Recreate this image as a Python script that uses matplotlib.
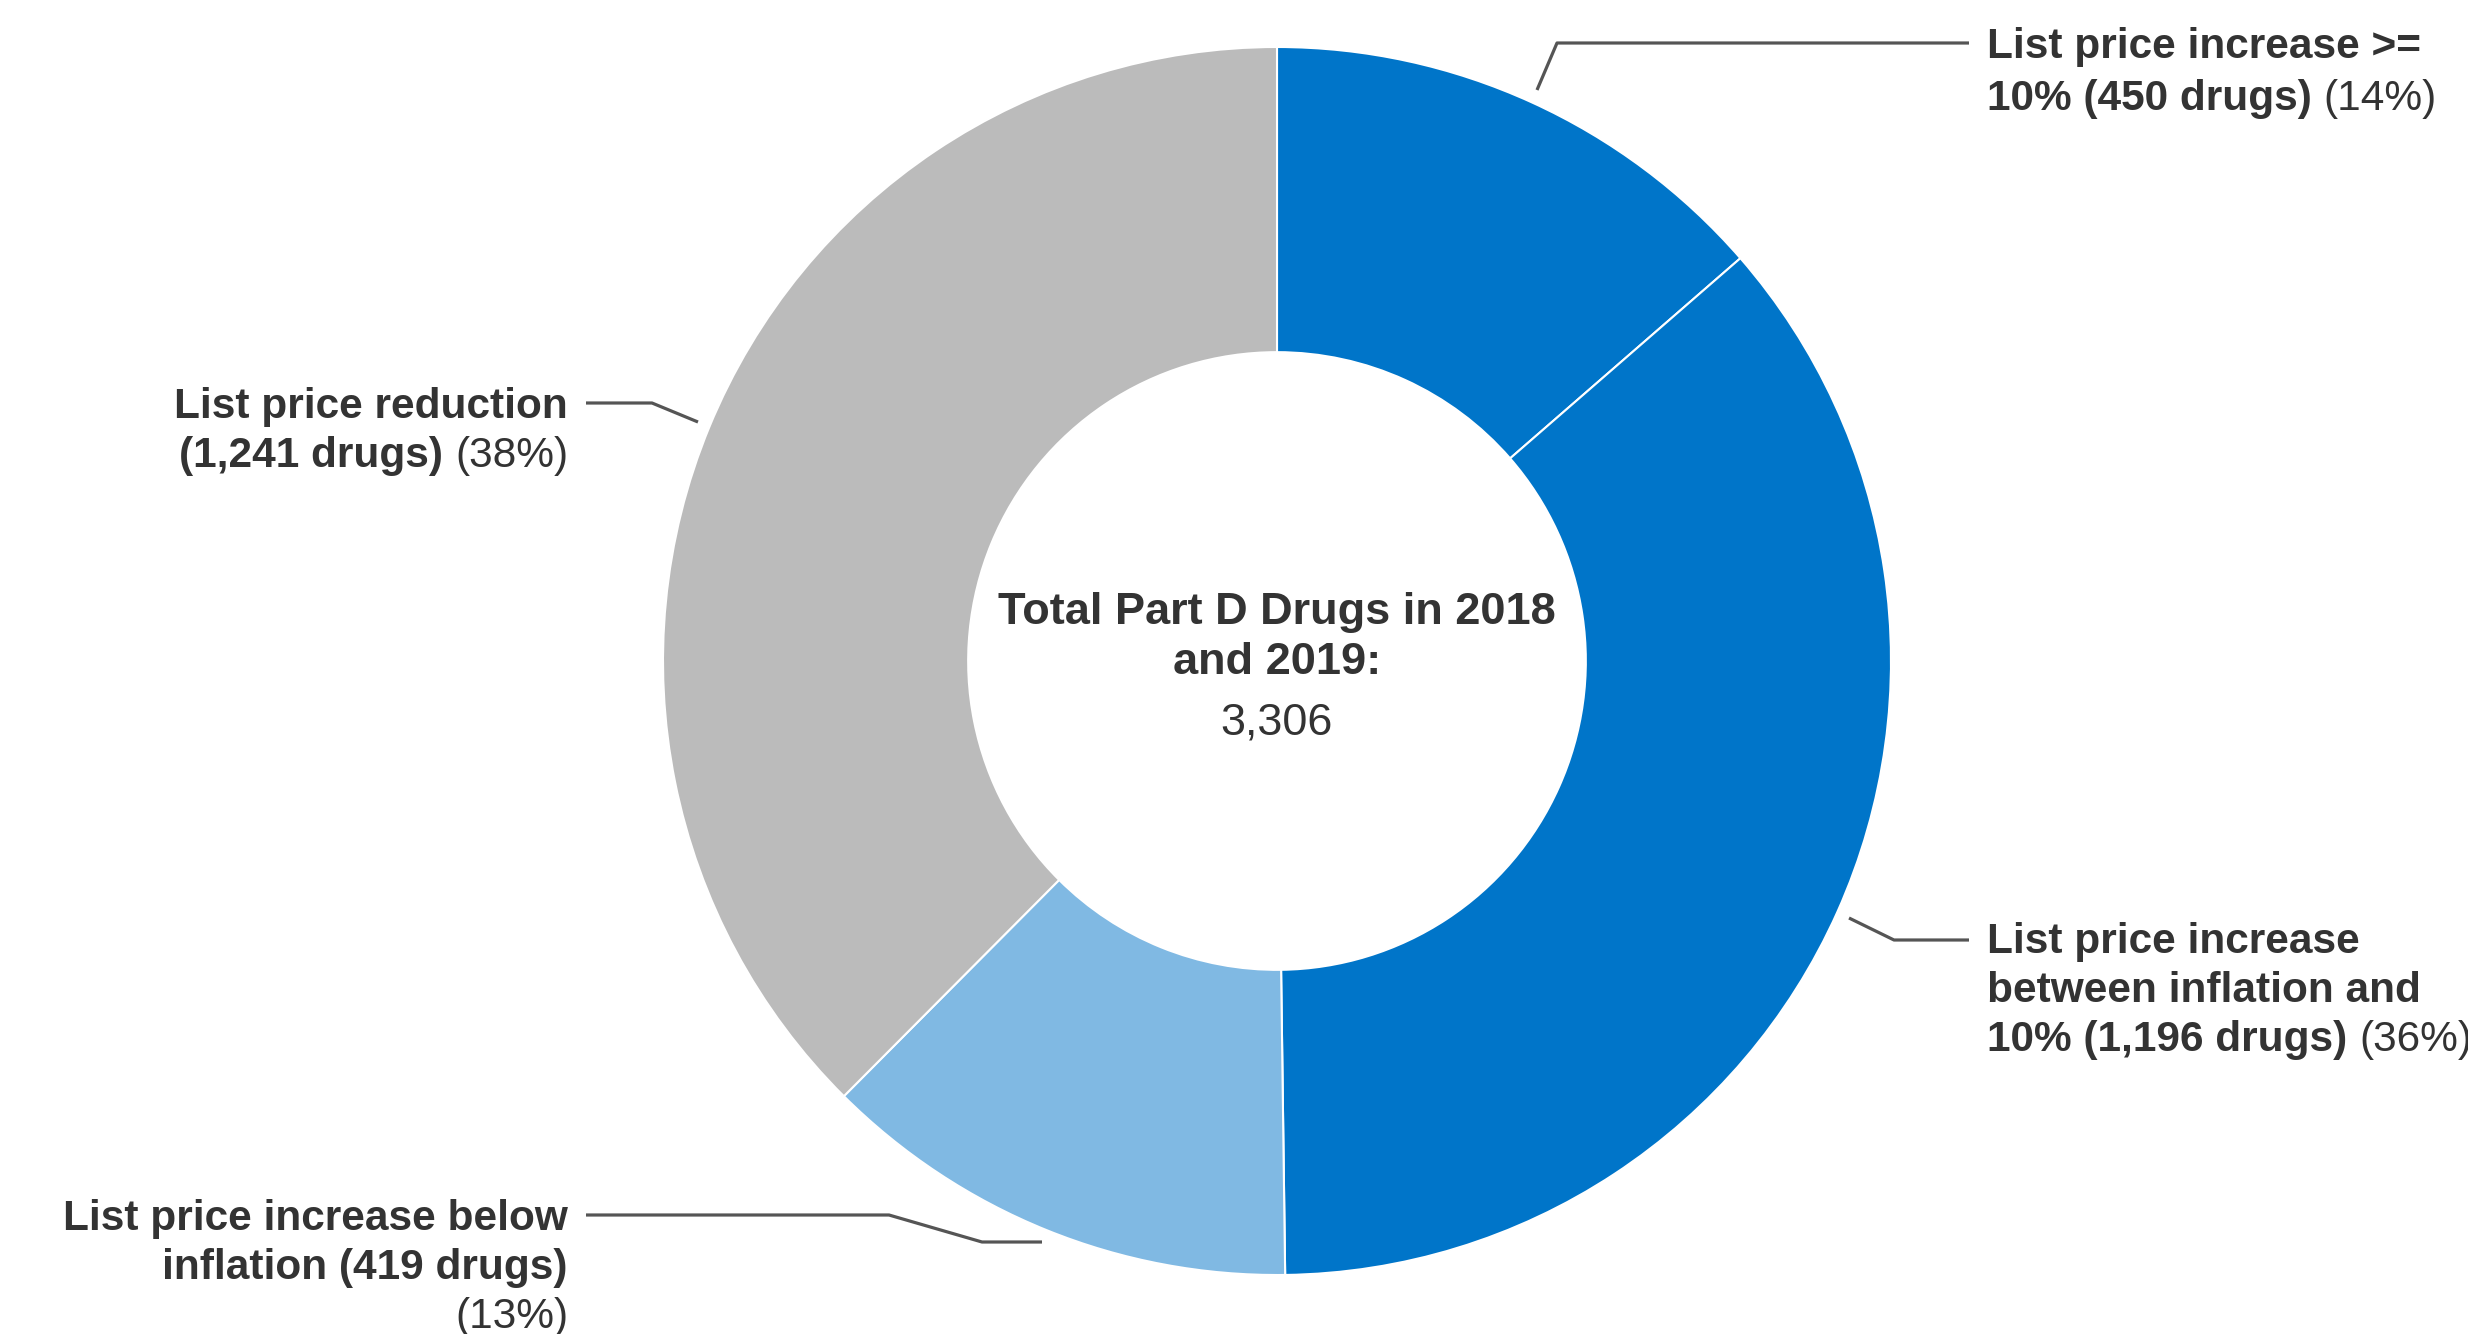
import matplotlib.pyplot as plt

plt.rcParams['font.family'] = ['Liberation Sans', 'DejaVu Sans']

# data, clockwise from 12 o'clock
counts = [450, 1196, 419, 1241]
pct_labels = ['(14%)', '(36%)', '(13%)', '(38%)']
colors = ['#0075C9', '#0075C9', '#80B9E3', '#BBBBBB']
total = 3306
center_title = ['Total Part D Drugs in 2018', 'and 2019:']

# bold label lines; the percentage is appended in regular weight
label_lines = [
    ['List price increase >=', '10% (450 drugs)'],
    ['List price increase', 'between inflation and', '10% (1,196 drugs)'],
    ['List price increase below', 'inflation (419 drugs)', None],
    ['List price reduction', '(1,241 drugs)'],
]

W, H = 2468, 1334
fig = plt.figure(figsize=(W / 100, H / 100), dpi=100)
ax = fig.add_axes([0, 0, 1, 1])

cx, cy, R = 1277, H - 661, 614
ax.pie(counts, colors=colors, startangle=90, counterclock=False,
       center=(cx, cy), radius=R,
       wedgeprops=dict(width=R * 0.497, edgecolor='white', linewidth=1.5))
ax.set_aspect('auto')
ax.set_xlim(0, W)
ax.set_ylim(0, H)
ax.axis('off')

txt_col = '#333333'
fs = 30.5
line_col = '#555555'
renderer = fig.canvas.get_renderer()


def iy(y):
    return H - y


def put_line(x, y_img, bold, regular, ha, size=fs):
    # y_img is the vertical middle of capitals in image pixels
    yb = iy(y_img + 15)
    gap = 12
    if ha == 'left':
        if bold:
            t = ax.text(x, yb, bold, ha='left', va='baseline', fontsize=size,
                        fontweight='bold', color=txt_col)
            x = t.get_window_extent(renderer).x1 + gap
        if regular:
            ax.text(x, yb, regular, ha='left', va='baseline', fontsize=size,
                    color=txt_col)
    else:
        if regular:
            t = ax.text(x, yb, regular, ha='right', va='baseline', fontsize=size,
                        color=txt_col)
            x = t.get_window_extent(renderer).x0 - gap
        if bold:
            ax.text(x, yb, bold, ha='right', va='baseline', fontsize=size,
                    fontweight='bold', color=txt_col)


# label layout: anchor x, line centres, alignment
label_x = [1987, 1987, 568, 568]
label_ys = [[43, 95], [938, 987, 1036], [1215, 1264, 1313], [403, 452]]
label_ha = ['left', 'left', 'right', 'right']

for lines, pct, x, ys, ha in zip(label_lines, pct_labels, label_x, label_ys, label_ha):
    for k, (ln, y) in enumerate(zip(lines, ys)):
        last = k == len(lines) - 1
        put_line(x, y, ln, pct if last else None, ha)

# leader lines
leaders = [
    [(1537, 90), (1557, 43), (1969, 43)],
    [(1849, 918), (1894, 940), (1969, 940)],
    [(1042, 1242), (982, 1242), (889, 1215), (586, 1215)],
    [(698, 422), (652, 403), (586, 403)],
]
for pts in leaders:
    ax.plot([p[0] for p in pts], [iy(p[1]) for p in pts], color=line_col,
            lw=2.3, solid_capstyle='butt')

# centre text
ax.text(cx, iy(608 + 16), center_title[0], ha='center', va='baseline',
        fontsize=32.5, fontweight='bold', color=txt_col)
ax.text(cx, iy(658 + 16), center_title[1], ha='center', va='baseline',
        fontsize=32.5, fontweight='bold', color=txt_col)
ax.text(cx, iy(718 + 16), f'{total:,}', ha='center', va='baseline',
        fontsize=32.5, color=txt_col)

fig.savefig('out.png', dpi=100, facecolor='white')
